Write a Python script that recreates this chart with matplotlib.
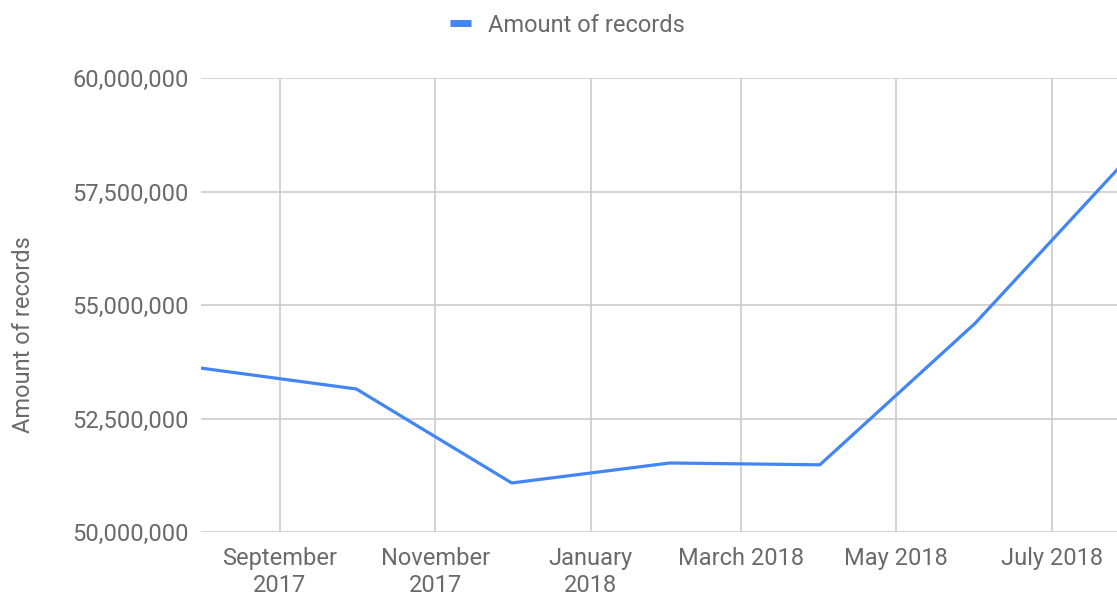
import matplotlib.pyplot as plt
from matplotlib.ticker import FuncFormatter
import pandas as pd

plt.rcParams['font.family'] = ['Roboto', 'DejaVu Sans']

# values (one point every two months)
dates = pd.to_datetime(['2017-08-01', '2017-10-01', '2017-12-01', '2018-02-01',
                        '2018-04-01', '2018-06-01', '2018-08-01'])
records = [53610000, 53150000, 51080000, 51520000, 51480000, 54600000, 58300000]

tick_dates = pd.to_datetime(['2017-09-01', '2017-11-01', '2018-01-01',
                             '2018-03-01', '2018-05-01', '2018-07-01'])
tick_labels = ['September\n2017', 'November\n2017', 'January\n2018',
               'March 2018', 'May 2018', 'July 2018']
y_ticks = [50000000, 52500000, 55000000, 57500000, 60000000]

text_grey = '#6a6a6a'
blue = '#4285F4'

fig = plt.figure(figsize=(11.17, 5.98), dpi=100)
ax = fig.add_axes([201 / 1117, 66 / 598, 916 / 1117, 454 / 598])

ax.plot(dates, records, color=blue, lw=2.3, label='Amount of records',
        solid_capstyle='round', zorder=3)

ax.set_xlim(pd.Timestamp('2017-08-01'), pd.Timestamp('2018-07-26 16:00'))
ax.set_ylim(50000000, 60000000)
ax.set_yticks(y_ticks)
ax.yaxis.set_major_formatter(FuncFormatter(lambda v, p: f'{v:,.0f}'))
ax.set_xticks(tick_dates)
ax.set_xticklabels(tick_labels, linespacing=1.22)

for s in ax.spines.values():
    s.set_visible(False)
ax.grid(True, color='#cccccc', lw=1.2)
ax.set_axisbelow(True)
ax.tick_params(length=0, labelsize=17, colors=text_grey)
ax.tick_params(axis='x', pad=11)
ax.tick_params(axis='y', pad=9)

ax.set_ylabel('Amount of records', fontsize=17, color=text_grey)
ax.yaxis.set_label_coords(-0.181, 0.434)

fig.legend(handles=ax.get_lines(), labels=['Amount of records'],
           loc='center', bbox_to_anchor=(0.508, 0.958), frameon=False,
           fontsize=17, labelcolor=text_grey, handlelength=0.9,
           handletextpad=0.7)
for h in fig.legends[0].legend_handles:
    h.set_linewidth(5)
    h.set_solid_capstyle('butt')

fig.savefig('out.png', dpi=100)
